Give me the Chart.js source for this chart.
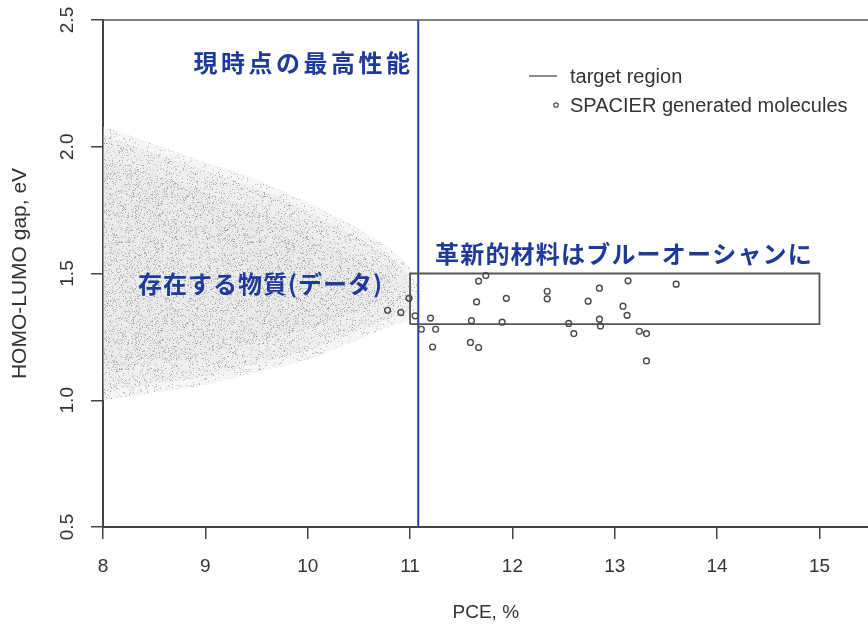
<!DOCTYPE html>
<html>
<head>
<meta charset="utf-8">
<script src="https://cdn.jsdelivr.net/npm/chart.js@4.4.1/dist/chart.umd.min.js"></script>
<style>
  html, body { margin: 0; padding: 0; background: #fff; overflow: hidden; }
  #wrap { width: 874px; height: 627px; }
</style>
</head>
<body>
<div id="wrap"><canvas id="gapChart"></canvas></div>
<script>
// axis ticks
const xTicks = [8, 9, 10, 11, 12, 13, 14, 15];
const yTicks = [0.5, 1.0, 1.5, 2.0, 2.5];

// SPACIER generated molecules (PCE %, HOMO-LUMO gap eV)
const molPCE = [10.78, 10.91, 10.99, 11.05, 11.11, 11.20, 11.25, 11.22, 11.67, 11.74,
                11.65, 11.60, 11.59, 11.67, 11.94, 11.90, 12.34, 12.34, 12.55, 12.60,
                12.74, 12.85, 12.85, 12.86, 13.08, 13.12, 13.13, 13.24, 13.31, 13.31, 13.60];
const molGap = [1.355, 1.346, 1.402, 1.333, 1.280, 1.324, 1.280, 1.210, 1.470, 1.492,
                1.388, 1.314, 1.228, 1.208, 1.402, 1.308, 1.430, 1.400, 1.303, 1.263,
                1.391, 1.442, 1.320, 1.293, 1.371, 1.335, 1.471, 1.272, 1.263, 1.155, 1.458];

// existing materials: outline of the point cloud (outer edge, inner band, core)
const cloudPCE   = [8.0, 8.5, 9.0, 9.5, 10.0, 10.5, 10.8, 11.0, 11.1];
const cloudUpper = [2.08, 2.01, 1.94, 1.87, 1.78, 1.675, 1.60, 1.52, 1.42];
const cloudLower = [1.00, 1.03, 1.06, 1.11, 1.16, 1.24, 1.29, 1.32, 1.40];
const midPCE   = [8.0, 8.5, 9.0, 9.5, 10.0, 10.5, 10.8, 11.0];
const midUpper = [2.045, 1.975, 1.905, 1.835, 1.745, 1.64, 1.565, 1.485];
const midLower = [1.035, 1.065, 1.095, 1.145, 1.195, 1.275, 1.325, 1.355];
const corePCE   = [8.0, 8.5, 9.0, 9.5, 10.0, 10.5, 10.8];
const coreUpper = [1.96, 1.89, 1.82, 1.75, 1.66, 1.555, 1.48];
const coreLower = [1.12, 1.15, 1.18, 1.23, 1.28, 1.36, 1.41];

// target region box and current best
const targetPCE = [11, 15];
const targetGap = [1.3, 1.5];
const bestPCE = 11.08;

const labels = [
  { text: "現時点の最高性能", x: 9.96, y: 2.33, spacing: "3.5px" },
  { text: "存在する物質(データ)", x: 9.54, y: 1.458, spacing: "1px" },
  { text: "革新的材料はブルーオーシャンに", x: 13.09, y: 1.578, spacing: "1.2px" }
];

const BLUE = "#1f3a98";
const SANS = '"Liberation Sans", Arial, sans-serif';

function pts(xs, ys) {
  return xs.map((v, i) => ({ x: v, y: ys[i] }));
}

// stipple texture so the cloud looks like lots of tiny dots
function stipple(seed, base, count, lo, hi) {
  const w = 131, h = 127;
  const c = document.createElement("canvas");
  c.width = w; c.height = h;
  const g = c.getContext("2d");
  g.fillStyle = base;
  g.fillRect(0, 0, w, h);
  let s = seed >>> 0;
  const next = () => { s ^= s << 13; s >>>= 0; s ^= s >>> 17; s ^= s << 5; s >>>= 0; return s / 4294967296; };
  for (let i = 0; i < count; i++) {
    const v = Math.floor(lo + next() * (hi - lo));
    g.fillStyle = `rgba(${v},${v},${v},0.5)`;
    g.fillRect(Math.floor(next() * w), Math.floor(next() * h), 1, 1);
  }
  return g.createPattern(c, "repeat");
}

const box = [
  { x: targetPCE[0], y: targetGap[0] }, { x: targetPCE[1], y: targetGap[0] },
  { x: targetPCE[1], y: targetGap[1] }, { x: targetPCE[0], y: targetGap[1] },
  { x: targetPCE[0], y: targetGap[0] }
];

function edge(data, fill, bg) {
  return {
    label: "cloud",
    data: data,
    showLine: true,
    borderWidth: 0,
    borderColor: "rgba(0,0,0,0)",
    pointRadius: 0,
    tension: 0.3,
    backgroundColor: bg || "rgba(0,0,0,0)",
    fill: fill
  };
}

const overlay = {
  id: "overlay",
  afterDraw(chart) {
    const { ctx, chartArea: a, scales: { x, y } } = chart;
    ctx.save();
    // top frame
    ctx.strokeStyle = "#555";
    ctx.lineWidth = 1.5;
    ctx.beginPath();
    ctx.moveTo(a.left, a.top);
    ctx.lineTo(a.right, a.top);
    ctx.stroke();

    // rotated y tick labels (R style)
    ctx.fillStyle = "#333";
    ctx.font = "19px " + SANS;
    ctx.textAlign = "center";
    ctx.textBaseline = "middle";
    yTicks.forEach(v => {
      ctx.save();
      ctx.translate(68, y.getPixelForValue(v));
      ctx.rotate(-Math.PI / 2);
      ctx.fillText(v.toFixed(1), 0, 0);
      ctx.restore();
    });

    // legend
    ctx.font = "20px " + SANS;
    ctx.textAlign = "left";
    ctx.strokeStyle = "#666";
    ctx.beginPath();
    ctx.moveTo(529, 76);
    ctx.lineTo(557, 76);
    ctx.stroke();
    ctx.fillText("target region", 570, 77);
    ctx.lineWidth = 1.3;
    ctx.strokeStyle = "#555";
    ctx.beginPath();
    ctx.arc(556, 105, 2.2, 0, Math.PI * 2);
    ctx.stroke();
    ctx.fillText("SPACIER generated molecules", 570, 106);

    // annotations
    ctx.fillStyle = BLUE;
    ctx.font = 'bold 24px "Noto Sans CJK JP", sans-serif';
    ctx.textAlign = "center";
    labels.forEach(l => {
      ctx.letterSpacing = l.spacing;
      ctx.fillText(l.text, x.getPixelForValue(l.x), y.getPixelForValue(l.y));
    });
    ctx.restore();
  }
};

new Chart(document.getElementById("gapChart"), {
  type: "scatter",
  data: {
    datasets: [
      {
        label: "SPACIER generated molecules",
        data: pts(molPCE, molGap),
        pointRadius: 2.9,
        pointBorderWidth: 1.4,
        pointBorderColor: "#4a4a4a",
        pointBackgroundColor: "rgba(0,0,0,0)"
      },
      {
        label: "target region",
        data: box,
        showLine: true,
        borderColor: "#555",
        borderWidth: 1.8,
        pointRadius: 0,
        fill: false
      },
      {
        label: "best",
        data: [{ x: bestPCE, y: 0.5 }, { x: bestPCE, y: 2.5 }],
        showLine: true,
        borderColor: "#2b40a8",
        borderWidth: 2,
        pointRadius: 0,
        fill: false
      },
      edge(pts(corePCE, coreUpper), "+1", stipple(99991, "rgba(205,205,205,0.12)", 1000, 90, 175)),
      edge(pts(corePCE, coreLower), false),
      edge(pts(midPCE, midUpper), "+1", stipple(4242, "rgba(210,210,210,0.18)", 1200, 90, 175)),
      edge(pts(midPCE, midLower), false),
      edge(pts(cloudPCE, cloudUpper), "+1", stipple(12345, "rgba(228,228,228,0.35)", 1500, 110, 195)),
      edge(pts(cloudPCE, cloudLower), false)
    ]
  },
  options: {
    responsive: true,
    maintainAspectRatio: false,
    animation: false,
    layout: { padding: { top: 20, right: 0, left: 0, bottom: 0 } },
    plugins: { legend: { display: false }, tooltip: { enabled: false } },
    scales: {
      x: {
        type: "linear",
        min: 8,
        max: 15.48,
        afterBuildTicks: s => { s.ticks = xTicks.map(v => ({ value: v })); },
        afterFit: s => { s.height = 100; },
        ticks: { color: "#333", font: { family: SANS, size: 19 }, padding: 16, maxRotation: 0 },
        grid: { drawOnChartArea: false, drawTicks: true, tickLength: 12, color: "#444", lineWidth: 1.5 },
        border: { display: true, color: "#444", width: 2 },
        title: { display: true, text: "PCE, %", color: "#333", font: { family: SANS, size: 19 }, padding: { top: 0, bottom: 3 } }
      },
      y: {
        type: "linear",
        min: 0.5,
        max: 2.5,
        afterBuildTicks: s => { s.ticks = yTicks.map(v => ({ value: v })); },
        afterFit: s => { s.width = 103; },
        ticks: { display: false },
        grid: { drawOnChartArea: false, drawTicks: true, tickLength: 12, color: "#444", lineWidth: 1.5 },
        border: { display: true, color: "#444", width: 2 },
        title: { display: true, text: "HOMO-LUMO gap, eV", color: "#333", font: { family: SANS, size: 21 }, padding: { top: 8, bottom: 0 } }
      }
    }
  },
  plugins: [overlay]
});
</script>
</body>
</html>
